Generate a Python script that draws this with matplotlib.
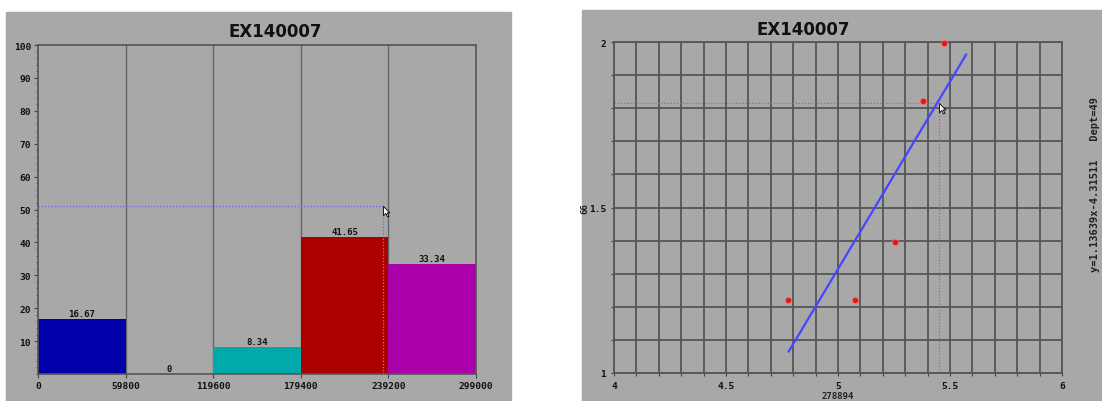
import matplotlib
matplotlib.use("Agg")
import matplotlib.pyplot as plt
import numpy as np
from matplotlib.patches import Rectangle
from matplotlib.path import Path

# ---- data: left histogram ----
bin_edges = [0, 59800, 119600, 179400, 239200, 299000]
bin_values = [16.67, 0, 8.34, 41.65, 33.34]
bin_labels = ["16.67", "0", "8.34", "41.65", "33.34"]
bin_colors = ["#0000AA", "#A8A8A8", "#00AAAA", "#AA0000", "#AA00AA"]
cursor_left = (235800, 51.1)

# ---- data: right scatter + fit ----
pts_x = [4.776, 5.077, 5.253, 5.378, 5.474]
pts_y = [1.222, 1.222, 1.397, 1.821, 1.997]
fit_x = [4.78, 5.572]
fit_y = [1.065, 1.962]
cursor_right = (5.45, 1.816)
fit_text = "y=1.13639x-4.31511   Dept=49"

BG = "#A8A8A8"
GRID = "#555555"
MONO = {"family": "DejaVu Sans Mono", "weight": "bold", "size": 6.5}

# mouse-pointer marker, tip at origin
cursor_path = Path([(0, 0), (0, -16), (4, -12), (7, -18), (9.5, -17),
                    (6.5, -11), (11, -11), (0, 0)],
                   [Path.MOVETO] + [Path.LINETO] * 6 + [Path.CLOSEPOLY])

fig = plt.figure(figsize=(11.02, 4.02), dpi=100)
W, H = 1102, 402
fig.patches.append(Rectangle((6 / W, 0), 505 / W, 1 - 13 / H,
                             transform=fig.transFigure, color=BG, zorder=-10))
fig.patches.append(Rectangle((582 / W, 0), 520 / W, 1 - 11 / H,
                             transform=fig.transFigure, color=BG, zorder=-10))

# ---------------- left: histogram ----------------
ax1 = fig.add_axes([38 / W, 1 - 375 / H, 438 / W, 329 / H])
ax1.set_facecolor(BG)
widths = np.diff(bin_edges)
ax1.bar(bin_edges[:-1], bin_values, width=widths, align="edge",
        color=bin_colors, edgecolor="none", zorder=2)
for e in bin_edges[1:-1]:
    ax1.axvline(e, color="#666666", lw=1.0, zorder=1)
for x0, w, v, lab in zip(bin_edges[:-1], widths, bin_values, bin_labels):
    ax1.text(x0 + w / 2, v + 0.3, lab, ha="center", va="bottom",
             fontdict=MONO, color="#111111", zorder=4)
cx, cy = cursor_left
ax1.plot([0, cx], [cy, cy], color="#6666FF", lw=0.9, ls=(0, (1, 1.5)), zorder=3)
ax1.plot([cx, cx], [bin_values[3], cy], color="#6666FF", lw=0.9,
         ls=(0, (1, 1.5)), zorder=3)
ax1.plot([cx, cx], [0, bin_values[3]], color="#C89000", lw=0.9,
         ls=(0, (1, 1.5)), zorder=3)
ax1.plot([cx], [cy], marker=cursor_path, markersize=15, color="white",
         markeredgecolor="black", markeredgewidth=0.6, zorder=5, clip_on=False)
ax1.set_xlim(bin_edges[0], bin_edges[-1])
ax1.set_ylim(0, 100)
ax1.set_xticks(bin_edges)
ax1.set_xticklabels([str(e) for e in bin_edges])
ax1.set_yticks(range(10, 101, 10))
ax1.set_yticks(range(0, 101, 2), minor=True)
ax1.tick_params(axis="both", which="major", length=3, width=0.8, color="#444444",
                pad=2, labelsize=6.8)
ax1.tick_params(axis="y", which="minor", length=1.5, width=0.6, color="#444444")
for lab in ax1.get_xticklabels() + ax1.get_yticklabels():
    lab.set_fontfamily("DejaVu Sans Mono")
    lab.set_fontweight("bold")
    lab.set_color("#111111")
for s in ax1.spines.values():
    s.set_color("#555555")
    s.set_linewidth(1.2)
fig.text(275 / W, 1 - 32 / H, "EX140007", ha="center", va="center",
         fontsize=12, fontweight="bold", color="#111111")

# ---------------- right: scatter + regression ----------------
ax2 = fig.add_axes([614 / W, 1 - 374 / H, 448 / W, 331 / H])
ax2.set_facecolor(BG)
ax2.set_xlim(4, 6)
ax2.set_ylim(1, 2)
ax2.set_xticks(np.arange(4, 6.01, 0.1), minor=True)
ax2.set_yticks(np.arange(1, 2.01, 0.1), minor=True)
ax2.set_xticks([4, 4.5, 5, 5.5, 6])
ax2.set_xticklabels(["4", "4.5", "5", "5.5", "6"])
ax2.set_yticks([1, 1.5, 2])
ax2.set_yticklabels(["1", "1.5", "2"])
ax2.grid(which="both", color=GRID, lw=1.3, zorder=0)
ax2.set_axisbelow(True)
ax2.tick_params(axis="both", which="both", length=2.5, width=0.8,
                color="#444444", pad=3, labelsize=6.8)
for lab in ax2.get_xticklabels() + ax2.get_yticklabels():
    lab.set_fontfamily("DejaVu Sans Mono")
    lab.set_fontweight("bold")
    lab.set_color("#111111")
for s in ax2.spines.values():
    s.set_color("#555555")
    s.set_linewidth(1.3)
ax2.plot(fit_x, fit_y, color="#4646FF", lw=1.6, zorder=3)
ax2.scatter(pts_x, pts_y, s=20, color="#E01818", edgecolors="#F07070",
            linewidths=0.6, zorder=4, clip_on=False)
rx, ry = cursor_right
ax2.plot([4, rx], [ry, ry], color="#CC44CC", lw=0.9, ls=(0, (1, 1.5)), zorder=2)
ax2.plot([rx, rx], [1, ry], color="#CC44CC", lw=0.9, ls=(0, (1, 1.5)), zorder=2)
ax2.plot([rx], [ry], marker=cursor_path, markersize=15, color="white",
         markeredgecolor="black", markeredgewidth=0.6, zorder=5, clip_on=False)
ax2.set_xlabel("278894", fontdict=MONO, labelpad=1, color="#222222")
ax2.set_ylabel("66", fontdict=MONO, labelpad=-2, color="#222222")
ax2.yaxis.set_label_coords(-0.055, 0.5)
fig.text(803 / W, 1 - 30 / H, "EX140007", ha="center", va="center",
         fontsize=12, fontweight="bold", color="#111111")
fig.text(1095 / W, 1 - 185 / H, fit_text, rotation=90, ha="center", va="center",
         family="DejaVu Sans Mono", weight="bold", size=7.5, color="#222222")

fig.savefig("out.png", dpi=100)
